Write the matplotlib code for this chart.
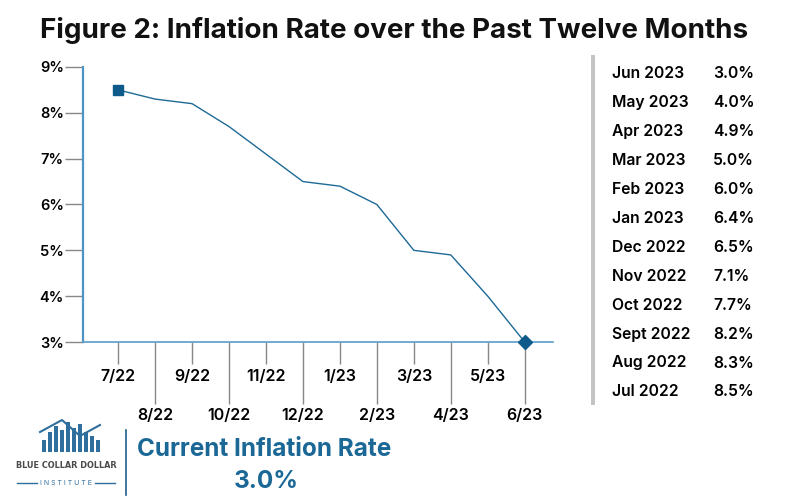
import matplotlib
matplotlib.use("Agg")
import matplotlib.pyplot as plt
import matplotlib.patches as mpatches
from matplotlib.lines import Line2D

plt.rcParams['font.family'] = ['Inter', 'DejaVu Sans']

# data
months = ['7/22', '8/22', '9/22', '10/22', '11/22', '12/22',
          '1/23', '2/23', '3/23', '4/23', '5/23', '6/23']
rates = [8.5, 8.3, 8.2, 7.7, 7.1, 6.5, 6.4, 6.0, 5.0, 4.9, 4.0, 3.0]
table_months = ['Jun 2023', 'May 2023', 'Apr 2023', 'Mar 2023', 'Feb 2023', 'Jan 2023',
                'Dec 2022', 'Nov 2022', 'Oct 2022', 'Sept 2022', 'Aug 2022', 'Jul 2022']
table_rates = ['3.0%', '4.0%', '4.9%', '5.0%', '6.0%', '6.4%',
               '6.5%', '7.1%', '7.7%', '8.2%', '8.3%', '8.5%']
y_ticks = [3, 4, 5, 6, 7, 8, 9]
current_rate = '3.0%'

blue = '#1d6a96'
dark_blue = '#0e5a8a'

fig = plt.figure(figsize=(8, 5), dpi=100)
fig.patch.set_facecolor('white')

fig.text(0.4925, 0.938, 'Figure 2: Inflation Rate over the Past Twelve Months',
         ha='center', va='center', fontsize=20, fontweight='bold', color='#111111')

ax = fig.add_axes([0.104, 0.316, 0.587, 0.55])
x = list(range(len(months)))
ax.plot(x, rates, color=blue, lw=1.0, zorder=3)
ax.plot(x[0], rates[0], marker='s', color=dark_blue, ms=7, zorder=4, clip_on=False)
ax.plot(x[-1], rates[-1], marker='D', color=dark_blue, ms=7, zorder=4, clip_on=False)

ax.set_xlim(-0.946, 11.76)
ax.set_ylim(3, 9)
for s in ['top', 'right']:
    ax.spines[s].set_visible(False)
ax.spines['left'].set_color('#4f93c4')
ax.spines['left'].set_linewidth(1.6)
ax.spines['bottom'].set_color('#5a9ccb')
ax.spines['bottom'].set_linewidth(1.2)

ax.set_yticks(y_ticks)
ax.set_yticklabels([f'{v}%' for v in y_ticks], fontsize=10.5, fontweight='semibold')
ax.tick_params(axis='y', length=13, width=1, color='#888888', pad=1)

ax.set_xticks(x[0::2])
ax.set_xticklabels(months[0::2], fontsize=11.5, fontweight='semibold')
ax.set_xticks(x[1::2], minor=True)
ax.set_xticklabels(months[1::2], minor=True, fontsize=11.5, fontweight='semibold')
ax.tick_params(axis='x', which='major', length=15.5, width=1, color='#888888', pad=4)
ax.tick_params(axis='x', which='minor', length=44.5, width=1, color='#888888', pad=3)

# right-hand table
fig.add_artist(mpatches.Rectangle((591 / 800, 1 - 405 / 500), 4 / 800, 350 / 500,
                                  transform=fig.transFigure, color='#c4c4c4', lw=0))
for i, (m, r) in enumerate(zip(table_months, table_rates)):
    yy = 1 - (74 + i * 28.9) / 500
    fig.text(612 / 800, yy, m, ha='left', va='center', fontsize=11.3, fontweight='semibold')
    fig.text(713 / 800, yy, r, ha='left', va='center', fontsize=11.3, fontweight='semibold')

# footer
fig.add_artist(Line2D([126 / 800, 126 / 800], [1 - 495 / 500, 1 - 430 / 500],
                      transform=fig.transFigure, color='#1f5f8b', lw=1.2))
fig.text(264 / 800, 1 - 449 / 500, 'Current Inflation Rate', ha='center', va='center',
         fontsize=17.5, fontweight='bold', color='#1b6896')
fig.text(266 / 800, 1 - 481 / 500, current_rate, ha='center', va='center',
         fontsize=17.5, fontweight='bold', color='#1b6896')

# simple logo mark
logo_bars = [(42, 12), (48, 20), (54, 26), (60, 22), (66, 30), (72, 24), (78, 28),
             (84, 20), (90, 16), (96, 12)]
for bx, bh in logo_bars:
    fig.add_artist(mpatches.Rectangle((bx / 800, 1 - 452 / 500), 4 / 800, bh / 500,
                                      transform=fig.transFigure, color='#2f6f9e', lw=0))
fig.add_artist(Line2D([40 / 800, 62 / 800, 80 / 800, 100 / 800],
                      [1 - 432 / 500, 1 - 420 / 500, 1 - 436 / 500, 1 - 425 / 500],
                      transform=fig.transFigure, color='#2f6f9e', lw=1.5))
fig.text(66 / 800, 1 - 465 / 500, 'BLUE COLLAR DOLLAR', ha='center', va='center',
         fontsize=6.5, fontweight='bold', color='#4a4a4a', family=['DejaVu Sans'],
         fontstretch='condensed')
fig.text(66 / 800, 1 - 483 / 500, 'I N S T I T U T E', ha='center', va='center',
         fontsize=5, color='#2f6f9e')
fig.add_artist(Line2D([17 / 800, 37 / 800], [1 - 483 / 500] * 2,
                      transform=fig.transFigure, color='#2f6f9e', lw=1))
fig.add_artist(Line2D([95 / 800, 115 / 800], [1 - 483 / 500] * 2,
                      transform=fig.transFigure, color='#2f6f9e', lw=1))

fig.savefig('out.png', dpi=100)
